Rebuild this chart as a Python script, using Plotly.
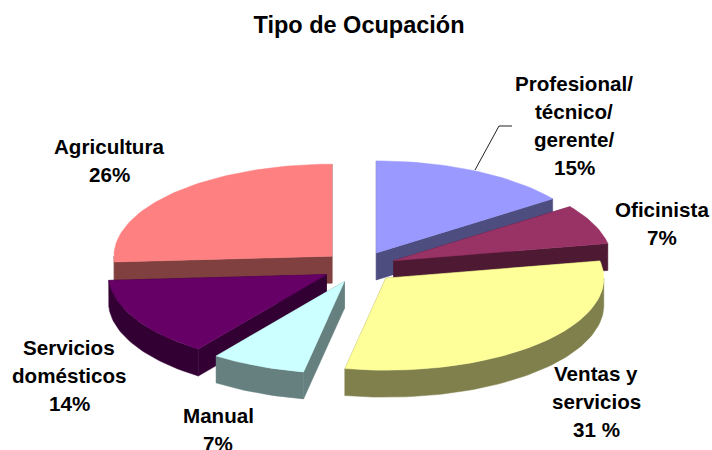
import math
import plotly.graph_objects as go

categories = ["Profesional/|técnico/|gerente/", "Oficinista", "Ventas y|servicios", "Manual", "Servicios|domésticos", "Agricultura"]
shares = [15, 7, 31, 7, 14, 26]
share_labels = ["15%", "7%", "31 %", "7%", "14%", "26%"]
top_colors = ["#9999FF", "#993366", "#FFFF99", "#CCFFFF", "#660066", "#FF8080"]
side_colors = ["#4D4D80", "#4D1933", "#80804D", "#668080", "#330033", "#804040"]
label_xy = [(574, 83), (662, 209), (596, 373), (218, 415), (69, 347), (109, 146)]

CX, CY, RX, RY, DEPTH, EXPLODE = 359.3, 267, 218, 92, 27, 0.172
LINE_STEP = 28
draw_order = [5, 0, 1, 4, 3, 2]
FONT = "Liberation Sans, Arial"

total = sum(shares)
bounds = [0]
for s in shares:
    bounds.append(bounds[-1] + s / total * 2 * math.pi)

def pt(ax, ay, a):
    return ax + RX * math.sin(a), ay - RY * math.cos(a)

def arc(ax, ay, a0, a1, dz=0):
    n = max(2, int(abs(a1 - a0) * 40))
    return [pt(ax, ay + dz, a0 + (a1 - a0) * i / n) for i in range(n + 1)]

def poly(fig, pts, color):
    xs = [p[0] for p in pts] + [pts[0][0]]
    ys = [p[1] for p in pts] + [pts[0][1]]
    fig.add_trace(go.Scatter(x=xs, y=ys, mode="lines", fill="toself", fillcolor=color,
                             line=dict(color=color, width=0.5), hoverinfo="skip", showlegend=False))

fig = go.Figure()
for i in draw_order:
    a0, a1 = bounds[i], bounds[i + 1]
    mid = (a0 + a1) / 2
    ax = CX + EXPLODE * RX * math.sin(mid)
    ay = CY - EXPLODE * RY * math.cos(mid)
    side, top = side_colors[i], top_colors[i]
    for a in (a0, a1):
        p = pt(ax, ay, a)
        poly(fig, [(ax, ay), p, (p[0], p[1] + DEPTH), (ax, ay + DEPTH)], side)
    lo, hi = max(a0, math.pi / 2), min(a1, 3 * math.pi / 2)
    if hi > lo:
        poly(fig, arc(ax, ay, lo, hi) + arc(ax, ay, hi, lo, DEPTH), side)
    poly(fig, [(ax, ay)] + arc(ax, ay, a0, a1), top)

fig.add_shape(type="line", x0=475, y0=170, x1=499, y1=126, line=dict(color="#222222", width=1))
fig.add_shape(type="line", x0=499, y0=126, x1=512, y1=126, line=dict(color="#222222", width=1))

for name, lab, (x, y) in zip(categories, share_labels, label_xy):
    for k, line in enumerate(name.split("|") + [lab]):
        fig.add_annotation(x=x, y=y + k * LINE_STEP, text=f"<b>{line}</b>", showarrow=False,
                           xanchor="center", yanchor="middle",
                           font=dict(family=FONT, size=20.6, color="black"))

fig.update_layout(
    width=712, height=450, margin=dict(l=0, r=0, t=0, b=0),
    paper_bgcolor="white", plot_bgcolor="white", showlegend=False,
    title=dict(text="<b>Tipo de Ocupación</b>", x=359 / 712, xanchor="center", y=1 - 25 / 450, yanchor="middle",
               font=dict(family=FONT, size=23.5, color="black")),
    xaxis=dict(range=[0, 712], visible=False, fixedrange=True),
    yaxis=dict(range=[450, 0], visible=False, fixedrange=True),
)
fig.write_html("out.html", config={"displayModeBar": False}, post_script="document.body.style.margin='0';")
